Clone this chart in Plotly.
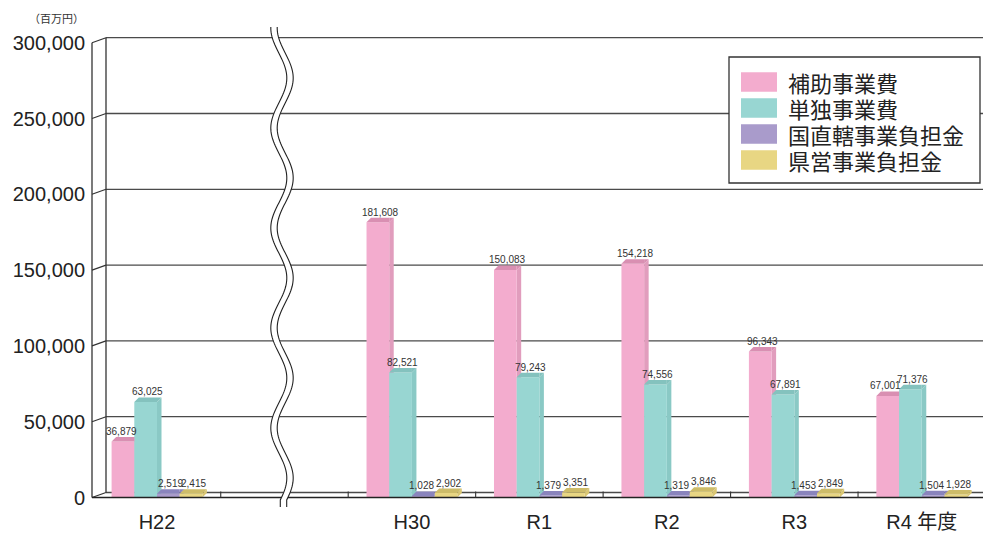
import plotly.graph_objects as go
import numpy as np

# ---------------- data ----------------
categories = ["H22", "H30", "R1", "R2", "R3", "R4 年度"]
series_names = ["補助事業費", "単独事業費", "国直轄事業負担金", "県営事業負担金"]
hojo = [36879, 181608, 150083, 154218, 96343, 67001]
tandoku = [63025, 82521, 79243, 74556, 67891, 71376]
kuni = [2519, 1028, 1379, 1319, 1453, 1504]
ken = [2415, 2902, 3351, 3846, 2849, 1928]
y_ticks = [0, 50000, 100000, 150000, 200000, 250000, 300000]
unit_label = "（百万円）"

series_values = [hojo, tandoku, kuni, ken]

# ---------------- styles ----------------
front_col = ["#f3acce", "#98d6d2", "#a99bcb", "#e8d683"]
top_col = ["#d98fb2", "#84c2be", "#8a84bd", "#cdbc69"]
side_col = ["#e19dbd", "#8ac9c5", "#9a90c4", "#d9c673"]

VIEW_W, VIEW_H = 991, 534
OFF = 8                      # default page body margin
W, H = VIEW_W - OFF, VIEW_H - OFF
X0_PX, X1_PX = 92.0, 985.5   # viewport pixel coords
XR = [-0.51, 6.5]
YF0, YF300 = 497.5, 42.7     # front pixel y of 0 and 300,000
YMAX = 300000
DEPTH_X_PX, DEPTH_Y_PX = 4.5, 4.5
WALL_X_PX, WALL_Y_PX = 14.0, 5.0

px_per_unit = (X1_PX - X0_PX) / (XR[1] - XR[0])
px_per_val = (YF0 - YF300) / YMAX
dx = DEPTH_X_PX / px_per_unit
dy = DEPTH_Y_PX / px_per_val
bw = 22.7 / px_per_unit

def pxx(x):
    return (x - OFF) / W

def pxy(y):
    return 1 - (y - OFF) / H

def yfront(v):
    return YF0 - v * px_per_val

slots = [0] + list(range(2, 2 + len(categories) - 1))

fig = go.Figure()
shapes = []
annotations = []

# ---- back wall gridlines, connectors, axis frame ----
for v in y_ticks:
    yf = yfront(v)
    yb = yf - WALL_Y_PX
    shapes.append(dict(type="line", xref="paper", yref="paper",
                       x0=pxx(X0_PX + WALL_X_PX), x1=1.0, y0=pxy(yb), y1=pxy(yb),
                       line=dict(color="#4a4a4a", width=1.3), layer="below"))
    shapes.append(dict(type="line", xref="paper", yref="paper",
                       x0=pxx(X0_PX), x1=pxx(X0_PX + WALL_X_PX), y0=pxy(yf), y1=pxy(yb),
                       line=dict(color="#333333", width=1.2), layer="below"))
shapes.append(dict(type="line", xref="paper", yref="paper",
                   x0=pxx(X0_PX), x1=pxx(X0_PX), y0=pxy(yfront(0)), y1=pxy(yfront(YMAX)),
                   line=dict(color="#333333", width=1.3), layer="below"))
shapes.append(dict(type="line", xref="paper", yref="paper",
                   x0=pxx(X0_PX + WALL_X_PX), x1=pxx(X0_PX + WALL_X_PX),
                   y0=pxy(yfront(0) - WALL_Y_PX), y1=pxy(yfront(YMAX) - WALL_Y_PX),
                   line=dict(color="#333333", width=1.3), layer="below"))
shapes.append(dict(type="line", xref="paper", yref="paper",
                   x0=pxx(X0_PX), x1=pxx(X1_PX), y0=pxy(YF0), y1=pxy(YF0),
                   line=dict(color="#222222", width=1.4), layer="above"))
for k in range(1, 8):
    xb = X0_PX + (k - 0.5 - XR[0]) * px_per_unit
    shapes.append(dict(type="line", xref="paper", yref="paper",
                       x0=pxx(xb), x1=pxx(xb), y0=pxy(YF0), y1=pxy(YF0 - WALL_Y_PX - 1),
                       line=dict(color="#333333", width=1.1), layer="above"))

# ---------------- bars ----------------
nser = len(series_values)
for s, vals in enumerate(series_values):
    xs = [sl + (s - (nser - 1) / 2) * bw for sl in slots]
    fig.add_trace(go.Bar(x=xs, y=vals, width=bw, name=series_names[s],
                         marker=dict(color=front_col[s], line=dict(width=0)),
                         showlegend=False, hoverinfo="skip"))
    for i, v in enumerate(vals):
        x0 = xs[i] - bw / 2
        x1 = xs[i] + bw / 2
        shapes.append(dict(type="path", xref="x", yref="y", layer="below",
                           path=f"M{x1},0 L{x1+dx},{dy} L{x1+dx},{v+dy} L{x1},{v} Z",
                           fillcolor=side_col[s], line=dict(width=0)))
        last = (s == nser - 1)
        if last:
            shapes.append(dict(type="path", xref="x", yref="y", layer="above",
                               path=f"M{x0},{v} L{x1},{v} L{x1+dx},{v+dy} L{x0+dx},{v+dy} Z",
                               fillcolor=top_col[s], line=dict(width=0)))
        else:
            shapes.append(dict(type="path", xref="x", yref="y", layer="above",
                               path=f"M{x0},{v} L{x1},{v} L{x1},{v+dy} L{x0+dx},{v+dy} Z",
                               fillcolor=top_col[s], line=dict(width=0)))
            shapes.append(dict(type="path", xref="x", yref="y", layer="below",
                               path=f"M{x1},{v} L{x1+dx},{v+dy} L{x1},{v+dy} Z",
                               fillcolor=top_col[s], line=dict(width=0)))
        shift = 0
        if not last and series_values[s + 1][i] > v:
            shift = -4
        annotations.append(dict(x=xs[i] + dx / 2, y=v + dy, xref="x", yref="y",
                                text=f"{v:,}", showarrow=False, yanchor="bottom",
                                xanchor="center", xshift=shift, yshift=-2,
                                font=dict(family="Liberation Sans, Arial",
                                          size=10, color="#333333")))

# ---------------- axis break wave ----------------
yy = np.linspace(27, 500, 240)
xc = 282 + 8 * np.sin(2 * np.pi * (yy - 53) / 100)
yy = np.append(yy, 507)
xc = np.append(xc, xc[-1])
half = 3.2
left = [(x - half, y) for x, y in zip(xc, yy)]
right = [(x + half, y) for x, y in zip(xc, yy)]
band = "M" + " L".join(f"{pxx(x)},{pxy(y)}" for x, y in left + right[::-1]) + " Z"
shapes.append(dict(type="path", xref="paper", yref="paper", layer="above",
                   path=band, fillcolor="white", line=dict(width=0)))
for pts in (left, right):
    p = "M" + " L".join(f"{pxx(x)},{pxy(y)}" for x, y in pts)
    shapes.append(dict(type="path", xref="paper", yref="paper", layer="above",
                       path=p, line=dict(color="#222222", width=1.1)))

# ---------------- legend (custom) ----------------
shapes.append(dict(type="rect", xref="paper", yref="paper", layer="above",
                   x0=pxx(729), x1=pxx(980), y0=pxy(57), y1=pxy(183),
                   fillcolor="white", line=dict(color="#333333", width=1.3)))
for s, name in enumerate(series_names):
    ytop = 72.3 + 26 * s
    shapes.append(dict(type="rect", xref="paper", yref="paper", layer="above",
                       x0=pxx(741), x1=pxx(777), y0=pxy(ytop), y1=pxy(ytop + 19.5),
                       fillcolor=front_col[s], line=dict(width=0)))
    annotations.append(dict(x=pxx(786), y=pxy(ytop + 9.8), xref="paper", yref="paper",
                            text=name, showarrow=False, xanchor="left", yanchor="middle",
                            font=dict(family="Noto Sans CJK JP", size=22, color="#222222")))

annotations.append(dict(x=pxx(56), y=pxy(18), xref="paper", yref="paper",
                        text=unit_label, showarrow=False, xanchor="center", yanchor="middle",
                        font=dict(family="Noto Sans CJK JP", size=11, color="#333333")))

fig.update_layout(
    width=W, height=H, autosize=False,
    margin=dict(l=0, r=0, t=0, b=0, pad=0, autoexpand=False),
    paper_bgcolor="white", plot_bgcolor="rgba(0,0,0,0)",
    barmode="overlay",
    shapes=shapes, annotations=annotations,
    xaxis=dict(domain=[pxx(X0_PX), pxx(X1_PX)], range=XR, automargin=False,
               tickvals=slots, ticktext=categories,
               showgrid=False, zeroline=False, showline=False, ticks="",
               ticklabelstandoff=10,
               tickfont=dict(family="Liberation Sans, Arial, Noto Sans CJK JP", size=20, color="#222222")),
    yaxis=dict(domain=[pxy(YF0), pxy(YF300)], range=[0, YMAX], automargin=False,
               tickvals=y_ticks, tickformat=",",
               showgrid=False, zeroline=False, showline=False, ticks="",
               ticklabelstandoff=6,
               tickfont=dict(family="Liberation Sans, Arial", size=20, color="#222222")),
)

fig.write_html("out.html")
